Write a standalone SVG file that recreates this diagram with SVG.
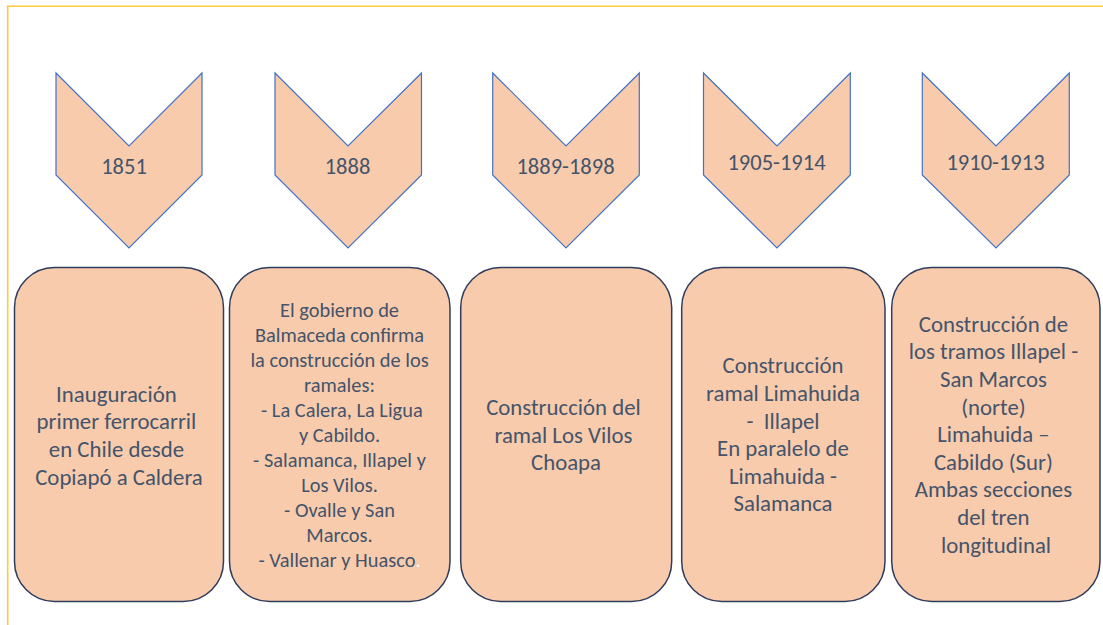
<svg xmlns="http://www.w3.org/2000/svg" width="1103" height="625" viewBox="0 0 1103 625">
<style>
.chev{fill:#F8CBAD;stroke:#4472C4;stroke-width:1.2}
.box{fill:#F8CBAD;stroke:#2F3D5C;stroke-width:1.5}
text{font-family:Carlito,Lato,"Liberation Sans",sans-serif;fill:#44546A;text-anchor:middle}
.y{font-size:22.5px}
.t{font-size:22.8px}
.s{font-size:20.4px}
</style>
<rect width="1103" height="625" fill="#FFFFFF"/>
<path d="M7.7 625 V6.3 H1103" fill="none" stroke="#FFC93C" stroke-width="1.6"/>
<g id="chevron-1851">
<polygon class="chev" points="56,73 129,146 202,73 202,175 129,248 56,175"/>
<text class="y" x="124" y="174.3">1851</text>
</g>
<g id="chevron-1888">
<polygon class="chev" points="275,73 348,146 421.5,73 421.5,175 348,248 275,175"/>
<text class="y" x="347.5" y="174.3">1888</text>
</g>
<g id="chevron-1889-1898">
<polygon class="chev" points="492.7,73 566,146 639.3,73 639.3,175 566,248 492.7,175"/>
<text class="y" x="565.5" y="174.3">1889-1898</text>
</g>
<g id="chevron-1905-1914">
<polygon class="chev" points="703.5,73 777,146 850.3,73 850.3,175 777,248 703.5,175"/>
<text class="y" x="776.5" y="170">1905-1914</text>
</g>
<g id="chevron-1910-1913">
<polygon class="chev" points="922.3,73 996,146 1069.3,73 1069.3,175 996,248 922.3,175"/>
<text class="y" x="995.5" y="169.5">1910-1913</text>
</g>
<g id="box-1851">
<rect class="box" x="14.5" y="267.5" width="209" height="334" rx="40" ry="40"/>
<text class="t" x="119">
<tspan x="119" y="401.7">Inauguración</tspan>
<tspan x="119" y="429.3">primer ferrocarril</tspan>
<tspan x="119" y="456.9">en Chile desde</tspan>
<tspan x="119" y="484.5">Copiapó a Caldera</tspan>
</text>
</g>
<g id="box-1888">
<rect class="box" x="229.5" y="267.5" width="220.5" height="334" rx="40" ry="40"/>
<text class="s" x="339.5" xml:space="preserve"><tspan x="339.5" y="316.7">El gobierno de</tspan><tspan x="339.5" y="341.7">Balmaceda confirma</tspan><tspan x="339.5" y="366.7">la construcción de los</tspan><tspan x="339.5" y="391.7">ramales:</tspan><tspan x="339.5" y="416.7"> - La Calera, La Ligua</tspan><tspan x="339.5" y="441.7">y Cabildo.</tspan><tspan x="339.5" y="466.7">- Salamanca, Illapel y</tspan><tspan x="339.5" y="491.7">Los Vilos.</tspan><tspan x="339.5" y="516.7">- Ovalle y San</tspan><tspan x="339.5" y="541.7">Marcos.</tspan><tspan x="339.5" y="566.7">- Vallenar y Huasco<tspan fill="#FFFFFF">.</tspan></tspan></text>
</g>
<g id="box-1889-1898">
<rect class="box" x="460.7" y="267.5" width="211" height="334" rx="40" ry="40"/>
<text class="t" x="566">
<tspan x="566" y="415">Construcción del</tspan>
<tspan x="566" y="442.6">ramal Los Vilos</tspan>
<tspan x="566" y="470.2">Choapa</tspan>
</text>
</g>
<g id="box-1905-1914">
<rect class="box" x="681.7" y="267.5" width="203.3" height="334" rx="40" ry="40"/>
<text class="t" x="783" xml:space="preserve"><tspan x="783" y="373.3">Construcción</tspan><tspan x="783" y="400.9">ramal Limahuida</tspan><tspan x="783" y="428.5">-  Illapel</tspan><tspan x="783" y="456.1">En paralelo de</tspan><tspan x="783" y="483.7">Limahuida -</tspan><tspan x="783" y="511.3">Salamanca</tspan></text>
</g>
<g id="box-1910-1913">
<rect class="box" x="891.7" y="267.5" width="208.3" height="334" rx="40" ry="40"/>
<text class="t" x="996">
<tspan x="996" y="331.7">Construcción de</tspan>
<tspan x="996" y="359.3">los tramos Illapel -</tspan>
<tspan x="996" y="386.9">San Marcos</tspan>
<tspan x="996" y="414.5">(norte)</tspan>
<tspan x="996" y="442.1">Limahuida –</tspan>
<tspan x="996" y="469.7">Cabildo (Sur)</tspan>
<tspan x="996" y="497.3">Ambas secciones</tspan>
<tspan x="996" y="524.9">del tren</tspan>
<tspan x="996" y="552.5">longitudinal</tspan>
</text>
</g>
<g id="connectors"></g>
</svg>
